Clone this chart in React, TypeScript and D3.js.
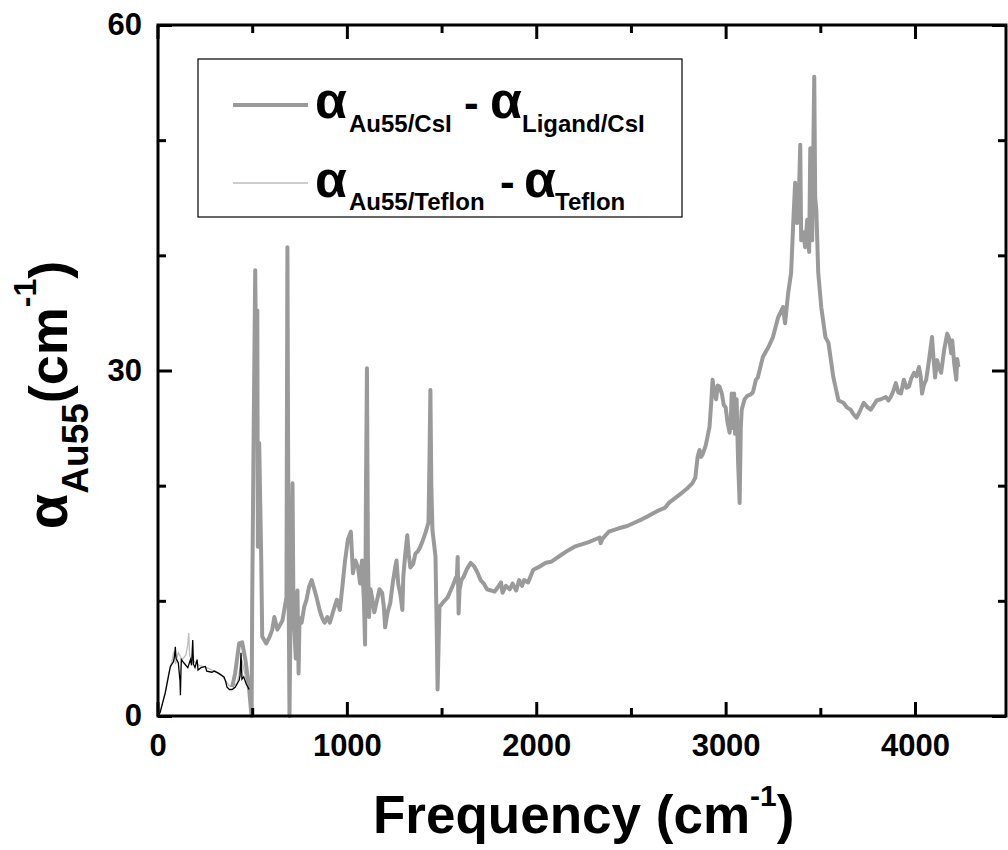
import React, { useEffect, useRef } from 'react'
import * as d3 from 'd3'

// Au55/CsI minus Ligand/CsI (thick grey)
const freqCsI = [394, 410, 431, 447, 465, 484, 495, 497, 500, 508, 516, 521, 527, 530, 537, 548, 553, 574, 590, 606, 617, 633, 660, 681, 686, 692, 697, 702, 713, 718, 723, 730, 735, 739, 745, 750, 761, 775, 787, 800, 814, 828, 840, 856, 870, 883, 897, 910, 930, 947, 963, 978, 989, 1005, 1021, 1032, 1045, 1059, 1070, 1080, 1090, 1096, 1101, 1106, 1111, 1117, 1125, 1133, 1145, 1160, 1172, 1186, 1195, 1202, 1215, 1229, 1242, 1255, 1262, 1271, 1283, 1293, 1298, 1308, 1319, 1327, 1335, 1350, 1362, 1375, 1388, 1400, 1415, 1431, 1436, 1441, 1446, 1452, 1460, 1468, 1474, 1479, 1484, 1489, 1500, 1515, 1532, 1548, 1564, 1575, 1580, 1585, 1588, 1590, 1595, 1605, 1617, 1635, 1654, 1672, 1691, 1706, 1723, 1740, 1761, 1780, 1798, 1814, 1822, 1840, 1860, 1875, 1894, 1910, 1925, 1936, 1957, 1984, 2010, 2050, 2080, 2133, 2170, 2202, 2240, 2277, 2335, 2340, 2350, 2383, 2436, 2480, 2521, 2560, 2596, 2640, 2681, 2700, 2740, 2771, 2800, 2824, 2840, 2852, 2862, 2870, 2878, 2895, 2915, 2925, 2931, 2940, 2950, 2958, 2968, 2980, 2990, 3000, 3010, 3021, 3028, 3032, 3038, 3045, 3050, 3058, 3066, 3074, 3080, 3085, 3100, 3115, 3130, 3144, 3160, 3170, 3197, 3225, 3250, 3277, 3303, 3314, 3330, 3346, 3356, 3367, 3378, 3385, 3394, 3399, 3410, 3420, 3431, 3441, 3447, 3457, 3468, 3473, 3479, 3489, 3505, 3527, 3543, 3569, 3596, 3622, 3640, 3660, 3675, 3691, 3710, 3729, 3750, 3766, 3782, 3798, 3820, 3846, 3860, 3872, 3885, 3899, 3912, 3926, 3941, 3955, 3968, 3980, 3995, 4008, 4021, 4030, 4037, 4048, 4059, 4074, 4090, 4098, 4106, 4117, 4128, 4138, 4154, 4170, 4180, 4191, 4197, 4207, 4218, 4223, 4229]
const alphaCsI = [2.5, 3.7, 6.3, 6.4, 4.8, 2.3, 0.3, 0, 9.8, 25, 38.7, 30, 35.2, 14.7, 23.7, 13.3, 6.9, 6.3, 6.8, 7.5, 8.6, 7.5, 8.3, 10.3, 40.7, 12, 0, 8, 20.2, 9, 7.5, 5, 9.5, 10.9, 3.7, 8.5, 8.1, 9.5, 10.1, 11.2, 11.8, 11, 10.3, 9.2, 8.5, 8.1, 8.6, 8.1, 9.2, 10.1, 9.2, 11.5, 13.3, 15.3, 16, 12.4, 13.5, 12.9, 11.5, 13.5, 10, 6.2, 20, 30.2, 14, 8.6, 11, 10.3, 9, 10.1, 11, 10.7, 9.5, 7.7, 9, 9.8, 11.5, 12.9, 13.5, 11.5, 10.5, 9.2, 12.1, 14, 15.7, 14, 12.9, 13.2, 14.1, 14.3, 14.7, 15.2, 15.9, 16.8, 22, 28.3, 20, 16.1, 15, 13.8, 8, 2.3, 6, 9.5, 9.7, 10, 10.3, 10.9, 11.5, 12, 11.8, 13.8, 11, 8.9, 11, 11.8, 12.1, 12.8, 13.3, 13, 12.4, 11.8, 11.5, 11, 10.9, 10.8, 11.2, 11.6, 10.7, 11.3, 11, 11.5, 10.9, 11.8, 11.3, 11.8, 11.6, 12.7, 12.9, 13.3, 13.4, 14, 14.4, 14.7, 14.9, 15.1, 15.5, 15, 15.4, 16, 16.3, 16.5, 16.8, 17.1, 17.4, 17.8, 18.1, 18.5, 19, 19.4, 19.8, 20.2, 20.7, 22.5, 23.1, 22.5, 22.7, 23.5, 25.1, 27.5, 29.2, 28, 27.5, 28.7, 28.6, 28, 27, 26.8, 25.5, 24.6, 26, 28, 25, 28, 24.5, 27.5, 22, 18.5, 25, 26.6, 27.5, 27.8, 27.9, 28.1, 29.2, 29.4, 31.2, 32, 32.9, 34.6, 35.5, 34.1, 36.7, 38.5, 42.4, 46.3, 42.8, 44, 49.6, 41.3, 42, 40.7, 43.1, 40.3, 49.3, 41.3, 55.5, 45, 43.9, 38.5, 35.5, 32.9, 32.4, 29.4, 27.4, 27.2, 26.8, 26.6, 26.2, 25.9, 26.5, 27.2, 26.8, 26.6, 27, 27.4, 27.5, 27.7, 27.4, 27.7, 28.2, 28.9, 28.1, 28, 29.2, 28.5, 28.6, 29.3, 29.8, 29.5, 30.3, 29.5, 28, 28.8, 29.2, 30.9, 32.9, 31, 29.4, 30.9, 30.2, 29.8, 31.8, 33.2, 32.8, 31.5, 32.6, 30.6, 29.2, 31, 30.3]

// Au55/Teflon minus Teflon (thin light grey)
const freqTeflon = [0, 20, 40, 60, 75, 85, 95, 110, 130, 150, 160, 165, 170, 190, 220, 260, 300, 340, 380, 420, 445, 470, 490]
const alphaTeflon = [0, 0.8, 2, 3.8, 4.6, 5.6, 4.5, 5.5, 4.9, 5.3, 6.2, 7.2, 5.2, 4.8, 4.4, 4.2, 3.9, 3.5, 2.6, 2.8, 4.9, 3, 2.4]

// low frequency trace (thin black)
const freqLow = [0, 14, 41, 68, 84, 90, 94, 98, 110, 119, 121, 124, 126, 140, 160, 174, 180, 186, 190, 198, 209, 214, 230, 253, 260, 287, 300, 324, 351, 360, 367, 380, 394, 410, 431, 436, 441, 446, 455, 468, 484]
const alphaLow = [0, 0.3, 2, 4.3, 4.7, 5.2, 6, 5, 4.6, 3, 1.8, 4, 4.9, 4.6, 4.2, 4.9, 4.4, 6.6, 4.5, 4.2, 4.9, 4, 4.2, 4.3, 3.9, 3.8, 3.9, 3.7, 3.4, 3, 2.5, 2.3, 2.3, 2.5, 3.1, 3.5, 5.5, 3.2, 3.4, 2.8, 2.3]

const xMajor = [0, 1000, 2000, 3000, 4000]
const xMinor = [500, 1500, 2500, 3500]
const yMajor = [0, 30, 60]
const yMinor = [10, 20, 40, 50]

const FONT = '"Liberation Sans", Arial, sans-serif'
const W = 1008
const H = 850
const L = 158, R = 1006, T = 25, B = 716

const App = () => {
  const svgRef = useRef<SVGSVGElement>(null)

  useEffect(() => {
    const svg = d3.select(svgRef.current)
    const x = d3.scaleLinear().domain([0, 4000]).range([157.5, 915])
    const y = d3.scaleLinear().domain([0, 60]).range([B, T])

    const g = svg.select('.plot')
    g.selectAll('*').remove()

    const line = (xs: number[], ys: number[]) =>
      d3.line<number>().x((d, i) => x(xs[i])).y((d, i) => y(ys[i]))(ys)

    g.append('path').attr('d', line(freqTeflon, alphaTeflon))
      .attr('fill', 'none').attr('stroke', '#bdbdbd').attr('stroke-width', 1.3)
    g.append('path').attr('d', line(freqCsI, alphaCsI))
      .attr('fill', 'none').attr('stroke', '#9a9a9a').attr('stroke-width', 4)
      .attr('stroke-linejoin', 'round')
    g.append('path').attr('d', line(freqLow, alphaLow))
      .attr('fill', 'none').attr('stroke', '#000').attr('stroke-width', 1.3)

    const ax = svg.select('.axes')
    ax.selectAll('*').remove()

    const styleAxis = (sel: any) => {
      sel.select('.domain').remove()
      sel.selectAll('line').attr('stroke', '#000').attr('stroke-width', 3)
      sel.selectAll('text').attr('font-family', FONT).attr('font-weight', 'bold')
        .attr('font-size', 31).attr('fill', '#000')
    }

    ax.append('g').attr('transform', `translate(0,${B})`)
      .call(d3.axisBottom(x).tickValues(xMajor).tickSizeInner(-14).tickSizeOuter(0).tickPadding(18).tickFormat(d3.format('d')))
      .call(styleAxis)
    ax.append('g').attr('transform', `translate(0,${B})`)
      .call(d3.axisBottom(x).tickValues(xMinor).tickSizeInner(-8).tickSizeOuter(0).tickFormat(() => ''))
      .call(styleAxis)
    ax.append('g').attr('transform', `translate(0,${T})`)
      .call(d3.axisTop(x).tickValues(xMajor).tickSizeInner(-14).tickSizeOuter(0).tickFormat(() => ''))
      .call(styleAxis)
    ax.append('g').attr('transform', `translate(0,${T})`)
      .call(d3.axisTop(x).tickValues(xMinor).tickSizeInner(-8).tickSizeOuter(0).tickFormat(() => ''))
      .call(styleAxis)
    ax.append('g').attr('transform', `translate(${L},0)`)
      .call(d3.axisLeft(y).tickValues(yMajor).tickSizeInner(-14).tickSizeOuter(0).tickPadding(16))
      .call(styleAxis)
    ax.append('g').attr('transform', `translate(${L},0)`)
      .call(d3.axisLeft(y).tickValues(yMinor).tickSizeInner(-8).tickSizeOuter(0).tickFormat(() => ''))
      .call(styleAxis)
    ax.append('g').attr('transform', `translate(${R},0)`)
      .call(d3.axisRight(y).tickValues(yMajor).tickSizeInner(-14).tickSizeOuter(0).tickFormat(() => ''))
      .call(styleAxis)
    ax.append('g').attr('transform', `translate(${R},0)`)
      .call(d3.axisRight(y).tickValues(yMinor).tickSizeInner(-8).tickSizeOuter(0).tickFormat(() => ''))
      .call(styleAxis)

    ax.append('rect').attr('x', L).attr('y', T).attr('width', R - L).attr('height', B - T)
      .attr('fill', 'none').attr('stroke', '#000').attr('stroke-width', 3)
  }, [])

  return (
    <svg ref={svgRef} width={W} height={H} style={{ position: 'absolute', left: 0, top: 0, background: '#fff' }}>
      <rect width={W} height={H} fill="#fff" />
      <g className="plot" />
      <g className="axes" />

      <g fontFamily={FONT} fontWeight="bold" fill="#000">
        <rect x={198} y={59} width={484} height={158} fill="#fff" stroke="#000" strokeWidth={1.2} />
        <line x1={233} x2={308} y1={105} y2={105} stroke="#9a9a9a" strokeWidth={4} />
        <line x1={233} x2={308} y1={183} y2={183} stroke="#bdbdbd" strokeWidth={1.5} />

        <text x={315} y={118} fontSize={52}>α</text>
        <text x={349} y={132} fontSize={24}>Au55/CsI</text>
        <text x={464} y={118} fontSize={44}>-</text>
        <text x={490} y={118} fontSize={52}>α</text>
        <text x={522} y={132} fontSize={24}>Ligand/CsI</text>

        <text x={315} y={197} fontSize={52}>α</text>
        <text x={349} y={210} fontSize={24}>Au55/Teflon</text>
        <text x={500} y={197} fontSize={44}>-</text>
        <text x={524} y={197} fontSize={52}>α</text>
        <text x={555} y={210} fontSize={24}>Teflon</text>

        <text x={373} y={833} fontSize={53}>
          Frequency (cm<tspan fontSize={30} dy={-27}>-1</tspan><tspan dy={27}>)</tspan>
        </text>

        <text transform="translate(67,395) rotate(-90)" textAnchor="middle" fontSize={54}>
          <tspan fontSize={58}>α</tspan>
          <tspan fontSize={37} dy={21}>Au55</tspan>
          <tspan dy={-21}>(cm</tspan>
          <tspan fontSize={32} dy={-31}>-1</tspan>
          <tspan dy={31}>)</tspan>
        </text>
      </g>
    </svg>
  )
}

export default App
